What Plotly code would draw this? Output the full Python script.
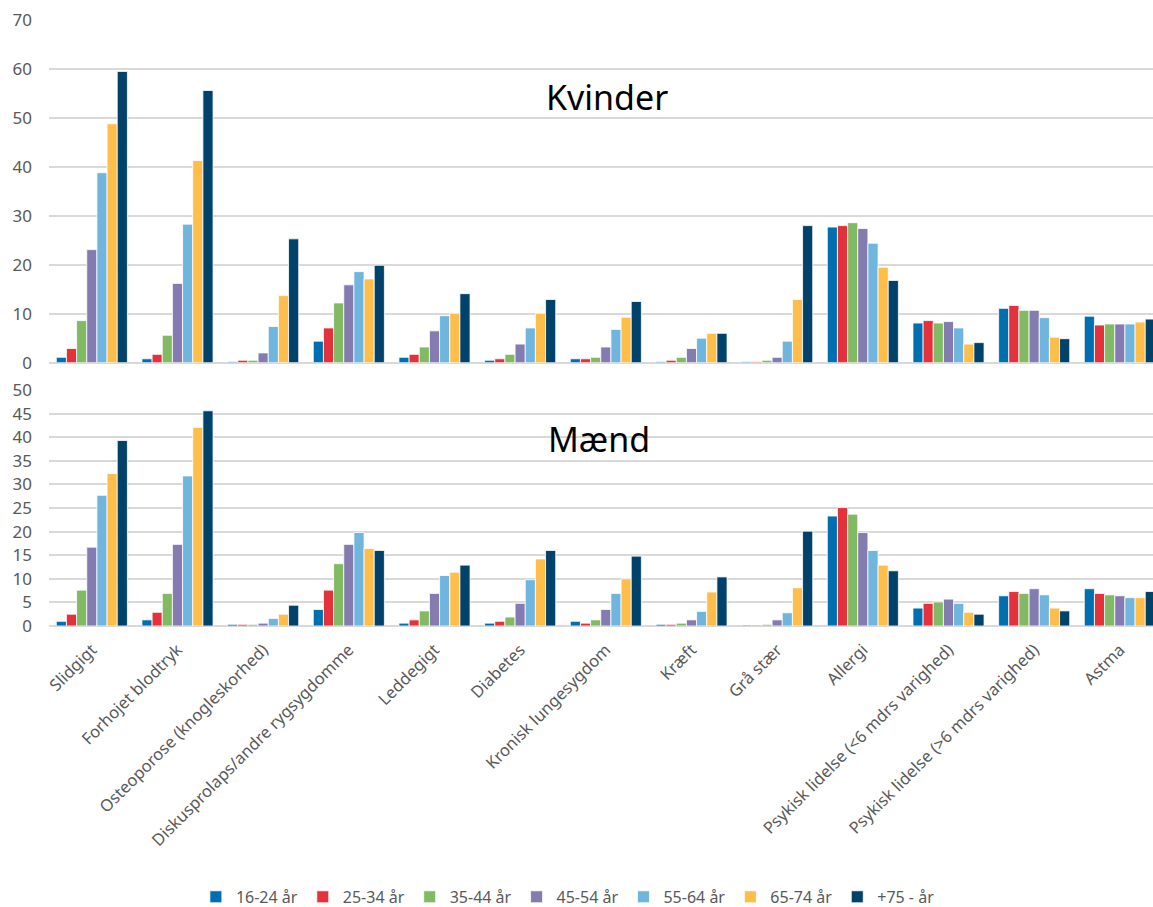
import plotly.graph_objects as go
from plotly.subplots import make_subplots

categories = [
    "Slidgigt", "Forhojet blodtryk", "Osteoporose (knogleskorhed)",
    "Diskusprolaps/andre rygsygdomme", "Leddegigt", "Diabetes",
    "Kronisk lungesygdom", "Kræft", "Grå stær", "Allergi",
    "Psykisk lidelse (<6 mdrs varighed)", "Psykisk lidelse (>6 mdrs varighed)",
    "Astma",
]

age_groups = ["16-24 år", "25-34 år", "35-44 år", "45-54 år", "55-64 år", "65-74 år", "+75 - år"]
colors = ["#006FB0", "#E3323C", "#82BA63", "#847CB0", "#6FB5DE", "#FFBD4A", "#00426A"]

# Kvinder (%), one list per age group, in category order
kvinder_16_24 = [1.1, 0.8, 0.2, 4.4, 1.1, 0.5, 0.8, 0.2, 0.2, 27.7, 8.1, 11.1, 9.5]
kvinder_25_34 = [2.9, 1.7, 0.5, 7.1, 1.7, 0.8, 0.8, 0.5, 0.2, 28.0, 8.6, 11.7, 7.7]
kvinder_35_44 = [8.6, 5.6, 0.5, 12.2, 3.2, 1.7, 1.1, 1.1, 0.5, 28.6, 8.1, 10.7, 7.9]
kvinder_45_54 = [23.1, 16.2, 2.0, 15.9, 6.5, 3.8, 3.2, 2.9, 1.1, 27.4, 8.4, 10.7, 7.9]
kvinder_55_64 = [38.8, 28.3, 7.4, 18.6, 9.6, 7.1, 6.8, 5.0, 4.4, 24.4, 7.1, 9.2, 7.9]
kvinder_65_74 = [48.8, 41.3, 13.7, 17.1, 10.1, 10.1, 9.3, 6.0, 12.9, 19.5, 3.8, 5.2, 8.3]
kvinder_75 = [59.5, 55.6, 25.3, 19.9, 14.1, 12.9, 12.5, 6.0, 28.0, 16.8, 4.1, 4.9, 8.9]

# Mænd (%), one list per age group, in category order
maend_16_24 = [1.0, 1.3, 0.35, 3.5, 0.6, 0.6, 1.0, 0.35, 0.2, 23.3, 3.8, 6.4, 7.9]
maend_25_34 = [2.5, 2.9, 0.35, 7.6, 1.3, 1.0, 0.6, 0.35, 0.2, 25.1, 4.8, 7.3, 6.9]
maend_35_44 = [7.6, 6.9, 0.35, 13.2, 3.2, 1.9, 1.3, 0.6, 0.35, 23.7, 5.1, 6.9, 6.6]
maend_45_54 = [16.7, 17.3, 0.6, 17.3, 6.9, 4.8, 3.5, 1.3, 1.3, 19.8, 5.7, 7.9, 6.4]
maend_55_64 = [27.7, 31.8, 1.6, 19.8, 10.7, 9.8, 6.9, 3.1, 2.8, 16.0, 4.8, 6.6, 6.0]
maend_65_74 = [32.3, 42.1, 2.5, 16.4, 11.4, 14.2, 10.0, 7.2, 8.1, 12.9, 2.9, 3.8, 6.0]
maend_75 = [39.3, 45.6, 4.4, 16.0, 12.9, 16.0, 14.8, 10.4, 20.1, 11.7, 2.5, 3.2, 7.3]

kvinder = [kvinder_16_24, kvinder_25_34, kvinder_35_44, kvinder_45_54,
           kvinder_55_64, kvinder_65_74, kvinder_75]
maend = [maend_16_24, maend_25_34, maend_35_44, maend_45_54,
         maend_55_64, maend_65_74, maend_75]

FONT = "Noto Sans, Open Sans, sans-serif"
GREY = "#595959"
GRID = "#D9D9D9"

fig = make_subplots(rows=2, cols=1, shared_xaxes=True, vertical_spacing=0.05)

for i, label in enumerate(age_groups):
    fig.add_trace(go.Bar(
        x=categories, y=kvinder[i], name=label, legendgroup=label,
        marker=dict(color=colors[i], line=dict(color="white", width=0.8)),
        showlegend=True,
    ), row=1, col=1)
for i, label in enumerate(age_groups):
    fig.add_trace(go.Bar(
        x=categories, y=maend[i], name=label, legendgroup=label,
        marker=dict(color=colors[i], line=dict(color="white", width=0.8)),
        showlegend=False,
    ), row=2, col=1)

tick_text = [c.replace("<", "&lt;").replace(">", "&gt;") for c in categories]

fig.update_layout(
    width=1153, height=907,
    margin=dict(l=49, r=0, t=20, b=281, autoexpand=False),
    paper_bgcolor="white", plot_bgcolor="white",
    barmode="group", bargap=0.17, bargroupgap=0.0,
    font=dict(family=FONT, color=GREY, size=16),
    legend=dict(
        orientation="h", x=0.47, xanchor="center", y=-0.447, yanchor="middle",
        font=dict(size=16, color=GREY), traceorder="normal",
        itemwidth=30,
    ),
    annotations=[
        dict(text="Kvinder", x=0.505, xref="paper", y=0.873, yref="paper",
             showarrow=False, font=dict(size=34, color="#000000", family=FONT),
             xanchor="center", yanchor="middle"),
        dict(text="Mænd", x=0.498, xref="paper", y=0.3086, yref="paper",
             showarrow=False, font=dict(size=34, color="#000000", family=FONT),
             xanchor="center", yanchor="middle"),
    ],
)

fig.update_layout(
    # Kvinder panel
    yaxis=dict(domain=[0.4345, 1.0], range=[0, 70], dtick=10,
               showgrid=True, gridcolor=GRID, gridwidth=1.5,
               zeroline=True, zerolinecolor=GRID, zerolinewidth=1.5,
               showline=False, ticks="", ticklabelstandoff=16,
               tickfont=dict(size=17, color=GREY)),
    # Mænd panel
    yaxis2=dict(domain=[0.0, 0.3894], range=[0, 50], dtick=5,
                showgrid=True, gridcolor=GRID, gridwidth=1.5,
                zeroline=True, zerolinecolor=GRID, zerolinewidth=1.5,
                showline=False, ticks="", ticklabelstandoff=16,
                tickfont=dict(size=17, color=GREY)),
    xaxis=dict(range=[-0.5, 12.387], showticklabels=False, showgrid=False,
               showline=False, ticks=""),
    xaxis2=dict(range=[-0.5, 12.387], showgrid=False, showline=False, ticks="",
                tickangle=-45, tickmode="array", tickvals=categories,
                ticktext=tick_text, ticklabelstandoff=10,
                tickfont=dict(size=16.5, color=GREY)),
)

fig.write_html("out.html")
